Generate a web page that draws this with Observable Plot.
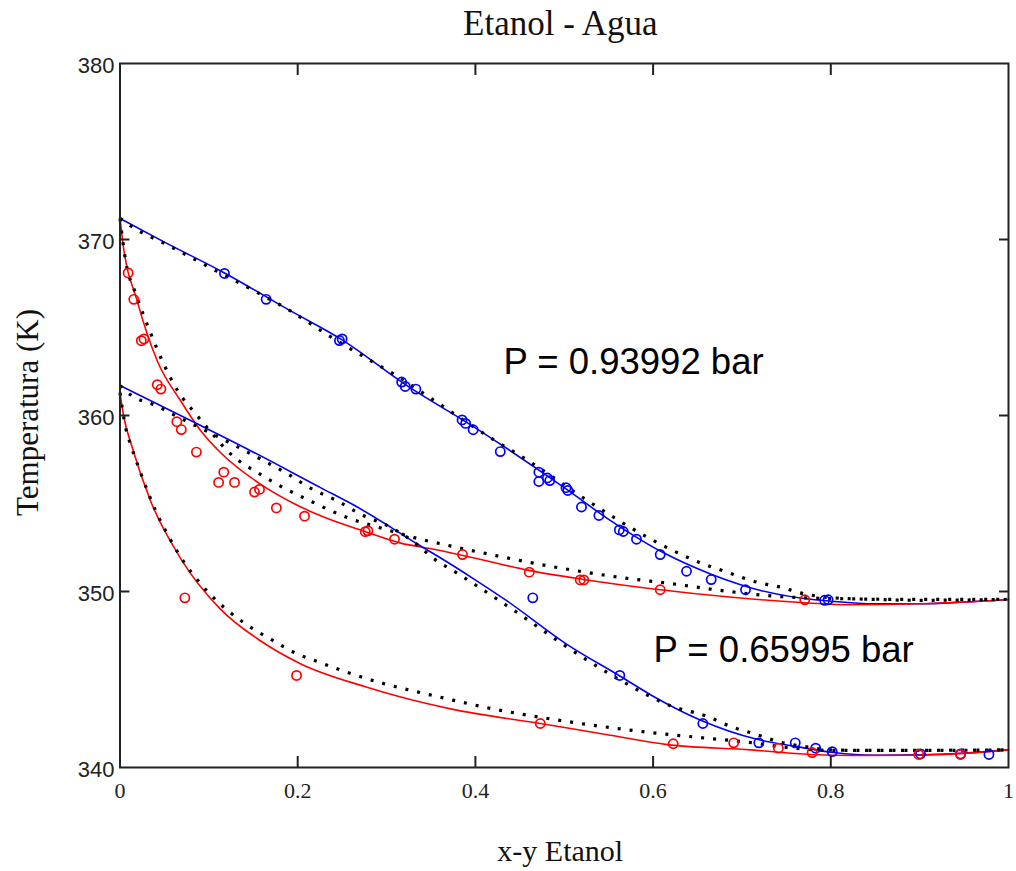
<!DOCTYPE html>
<html>
<head>
<meta charset="utf-8">
<script src="https://cdn.jsdelivr.net/npm/d3@7"></script>
<script src="https://cdn.jsdelivr.net/npm/@observablehq/plot@0.6"></script>
<style>
  body { margin: 0; background: #fff; }
  #chart svg { display: block; }
</style>
</head>
<body>
<div id="chart"></div>
<script>
// ---- Axis ticks ----
const xTickValues = [0, 0.2, 0.4, 0.6, 0.8, 1];
const yTickValues = [340, 350, 360, 370, 380];
const xInnerTicks = [0.2, 0.4, 0.6, 0.8];
const yInnerTicks = [350, 360, 370];

// ---- P = 0.93992 bar : model curves (solid) [x, T] ----
const dewHighLine = [[0,371.2],[0.05,369.85],[0.1176,368.1],[0.19,366.0],[0.25,364.3],[0.32,361.8],[0.4,359.3],[0.5,355.9],[0.55,354.1],[0.608,352.3],[0.6646,351.0],[0.721,350.06],[0.77,349.6],[0.8,349.45],[0.85,349.3],[0.9,349.3],[0.95,349.4],[1,349.55]];
const bubbleHighLine = [[0,371.2],[0.003,369.9],[0.0194,366.5],[0.042,363.1],[0.068,360.85],[0.0906,359.15],[0.113,357.9],[0.158,356.1],[0.1956,355.0],[0.2257,354.3],[0.278,353.37],[0.316,352.75],[0.353,352.4],[0.386,352.05],[0.46,351.2],[0.52,350.7],[0.608,350.1],[0.683,349.7],[0.758,349.4],[0.82,349.25],[0.9,349.3],[0.95,349.4],[1,349.55]];
// second model (dotted)
const dewHighCalc = [[0,371.2],[0.013,370.74],[0.053,369.7],[0.1075,368.24],[0.149,367.14],[0.19,366.0],[0.2287,364.74],[0.27,363.47],[0.31,362.3],[0.351,360.94],[0.419,358.67],[0.458,357.48],[0.526,355.17],[0.593,353.1],[0.647,351.76],[0.689,351.0],[0.717,350.53],[0.743,350.25],[0.77,349.87],[0.8,349.65],[0.85,349.55],[0.9,349.5],[1,349.55]];
const bubbleHighCalc = [[0,371.2],[0.006,368.9],[0.0186,366.8],[0.0335,364.8],[0.05,362.84],[0.065,361.4],[0.085,360.1],[0.1,359.2],[0.1207,358.0],[0.162,356.53],[0.216,355.1],[0.2557,354.2],[0.297,353.56],[0.336,353.0],[0.3645,352.67],[0.404,352.24],[0.4995,351.3],[0.566,350.78],[0.6215,350.44],[0.676,350.06],[0.728,349.77],[0.8,349.6],[0.9,349.55],[1,349.55]];
// experimental points
const dewHighExp = [[0.1176,368.07],[0.1645,366.6],[0.247,364.26],[0.25,364.35],[0.317,361.9],[0.321,361.65],[0.333,361.5],[0.385,359.75],[0.389,359.55],[0.3975,359.19],[0.428,357.95],[0.4714,356.78],[0.4714,356.25],[0.4837,356.3],[0.481,356.45],[0.504,355.74],[0.502,355.9],[0.5194,354.8],[0.539,354.32],[0.5664,353.41],[0.562,353.5],[0.5813,352.97],[0.608,352.1],[0.6376,351.15],[0.6654,350.68],[0.704,350.1],[0.793,349.5],[0.797,349.53]];
const bubbleHighExp = [[0.0092,368.1],[0.0155,366.6],[0.024,364.25],[0.027,364.35],[0.042,361.75],[0.046,361.5],[0.064,359.65],[0.069,359.2],[0.086,357.92],[0.1168,356.78],[0.111,356.2],[0.1289,356.2],[0.1514,355.65],[0.157,355.8],[0.176,354.75],[0.2077,354.28],[0.276,353.4],[0.279,353.45],[0.309,352.97],[0.3855,352.1],[0.4606,351.1],[0.518,350.66],[0.522,350.66],[0.608,350.1],[0.7707,349.53]];

// ---- P = 0.65995 bar ----
const dewLowLine = [[0,361.7],[0.08,359.7],[0.147,358.0],[0.2257,355.9],[0.267,354.8],[0.3045,353.66],[0.3345,352.7],[0.36,351.93],[0.398,350.72],[0.436,349.45],[0.503,347.0],[0.5625,345.2],[0.6,344.05],[0.653,342.7],[0.717,341.6],[0.76,341.2],[0.803,340.85],[0.85,340.7],[0.9,340.72],[0.95,340.82],[1,341.0]];
const bubbleLowLine = [[0,361.3],[0.004,360.0],[0.0137,358.2],[0.034,355.2],[0.068,351.9],[0.113,349.0],[0.158,347.2],[0.203,345.9],[0.278,344.56],[0.316,344.0],[0.372,343.33],[0.473,342.5],[0.55,341.85],[0.616,341.3],[0.71,341.0],[0.777,340.74],[0.826,340.68],[0.9,340.7],[0.95,340.8],[1,341.0]];
const dewLowCalc = [[0,361.7],[0.012,361.17],[0.04,360.57],[0.066,359.9],[0.1224,358.48],[0.148,357.8],[0.188,356.7],[0.216,355.83],[0.2425,355.2],[0.2707,354.4],[0.31,353.5],[0.336,352.6],[0.351,351.95],[0.3776,351.1],[0.39,350.7],[0.45,348.7],[0.5,346.95],[0.56,345.05],[0.62,343.5],[0.661,342.9],[0.689,342.3],[0.715,341.9],[0.743,341.44],[0.77,341.2],[0.8,341.0],[0.85,340.97],[1,341.0]];
const bubbleLowCalc = [[0,361.3],[0.006,359.4],[0.0137,358.1],[0.025,356.5],[0.04,354.6],[0.054,353.2],[0.069,351.9],[0.0914,350.4],[0.117,349.1],[0.143,348.1],[0.171,347.25],[0.1975,346.5],[0.224,345.99],[0.252,345.47],[0.291,344.85],[0.33,344.35],[0.36,344.0],[0.413,343.4],[0.496,342.67],[0.578,342.1],[0.653,341.7],[0.706,341.44],[0.757,341.1],[0.8,340.97],[0.9,340.97],[1,341.0]];
const dewLowExp = [[0.4646,349.64],[0.5625,345.23],[0.656,342.5],[0.719,341.4],[0.76,341.4],[0.783,341.1],[0.8016,340.9],[0.901,340.77],[0.946,340.77],[0.978,340.74]];
const bubbleLowExp = [[0.073,349.64],[0.1987,345.23],[0.473,342.5],[0.6226,341.35],[0.6907,341.4],[0.741,341.1],[0.779,340.85],[0.899,340.74],[0.946,340.74]];

// ---- Texts ----
const titleText = "Etanol - Agua";
const xLabel = "x-y Etanol";
const yLabel = "Temperatura (K)";
const pressureLabels = [
  {label: "P = 0.93992 bar", x: 0.4316, t: 362.33},
  {label: "P = 0.65995 bar", x: 0.6005, t: 345.97}
];

const RED = "#ff0000", BLUE = "#0000ff";
const serif = "'Liberation Serif', 'Times New Roman', serif";
const sans = "'Liberation Sans', Arial, sans-serif";
const X = d => d[0], Y = d => d[1];

const solid = (data, color) => Plot.line(data, {x: X, y: Y, stroke: color, strokeWidth: 1.6, curve: "monotone-x"});
const dotted = (data) => Plot.line(data, {x: X, y: Y, stroke: "#000", strokeWidth: 3.2, strokeDasharray: "3,9", strokeLinecap: "butt", curve: "monotone-x"});
const circles = (data, color) => Plot.dot(data, {x: X, y: Y, r: 4.6, stroke: color, strokeWidth: 1.7, fill: "none"});

const chart = Plot.plot({
  width: 1016,
  height: 871,
  marginTop: 63,
  marginBottom: 104,
  marginLeft: 119.5,
  marginRight: 8,
  style: {background: "#fff", overflow: "visible"},
  x: {domain: [0, 1]},
  y: {domain: [340, 380]},
  marks: [
    solid(dewHighLine, BLUE),
    solid(bubbleHighLine, RED),
    solid(dewLowLine, BLUE),
    solid(bubbleLowLine, RED),
    dotted(dewHighCalc),
    dotted(bubbleHighCalc),
    dotted(dewLowCalc),
    dotted(bubbleLowCalc),
    circles(dewHighExp, BLUE),
    circles(bubbleHighExp, RED),
    circles(dewLowExp, BLUE),
    circles(bubbleLowExp, RED),
    Plot.frame({stroke: "#222", strokeWidth: 2}),
    // inner ticks
    Plot.axisX(xInnerTicks, {anchor: "bottom", tickSize: 11, dy: -11, fill: "none", stroke: "#222", strokeWidth: 2, label: null}),
    Plot.axisX(xInnerTicks, {anchor: "top", tickSize: 11, dy: 11, fill: "none", stroke: "#222", strokeWidth: 2, label: null}),
    Plot.axisY(yInnerTicks, {anchor: "left", tickSize: 10, dx: 10, fill: "none", stroke: "#222", strokeWidth: 2, label: null}),
    Plot.axisY(yInnerTicks, {anchor: "right", tickSize: 10, dx: -10, fill: "none", stroke: "#222", strokeWidth: 2, label: null}),
    // tick labels
    Plot.axisX(xTickValues, {anchor: "bottom", tickSize: 0, tickPadding: 15, fontSize: 22, fontFamily: serif, fill: "#222", label: null, tickFormat: d => String(d)}),
    Plot.axisY(yTickValues, {anchor: "left", tickSize: 0, tickPadding: 5.5, dy: 2, fontSize: 22, fontFamily: sans, fill: "#222", label: null}),
    // annotations
    Plot.text(pressureLabels, {x: "x", y: "t", text: "label", textAnchor: "start", lineAnchor: "bottom", fontSize: 36.5, fontFamily: sans, fill: "#000"}),
    // title and axis labels
    Plot.text([titleText], {text: d => d, frameAnchor: "top", textAnchor: "middle", dx: -4, dy: -28.5, lineAnchor: "bottom", fontSize: 35, fontFamily: serif, fill: "#111"}),
    Plot.text([xLabel], {text: d => d, frameAnchor: "bottom", textAnchor: "middle", dx: -4, dy: 93, lineAnchor: "bottom", fontSize: 30, fontFamily: serif, fill: "#111"}),
    Plot.text([yLabel], {text: d => d, frameAnchor: "left", textAnchor: "middle", dx: -92, dy: -3, rotate: -90, fontSize: 31, fontFamily: serif, fill: "#111"})
  ]
});
document.getElementById("chart").appendChild(chart);
</script>
</body>
</html>
